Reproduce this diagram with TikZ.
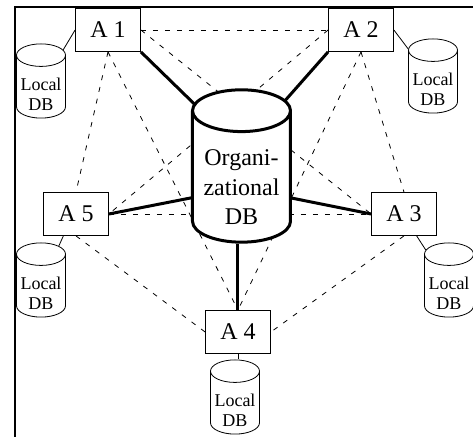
\documentclass[tikz,border=0pt]{standalone}
\usepackage{fontspec}
\setmainfont{Liberation Serif}
\usetikzlibrary{shapes.geometric,backgrounds}
\newcommand{\dblabel}[2]{\raisebox{#1}[\height][\depth]{\begin{tabular}{@{}c@{}}#2\end{tabular}}}

\begin{document}
\begin{tikzpicture}[x=0.5pt,y=-0.5pt,
	app/.style={draw,fill=white,minimum width=32.5pt,minimum height=21.5pt,inner sep=0pt,font=\fontsize{12}{14}\selectfont},
	localdb/.style={draw,fill=white,cylinder,shape border rotate=90,aspect=0.55,anchor=shape center,minimum width=24.5pt,minimum height=33pt,inner sep=0pt,font=\fontsize{9}{10}\selectfont},
	orgdb/.style={draw,fill=white,line width=1.5pt,cylinder,shape border rotate=90,aspect=0.55,anchor=shape center,minimum width=49pt,minimum height=70pt,inner sep=0pt,font=\fontsize{12}{14.7}\selectfont},
	peer/.style={dash pattern=on 2.5pt off 3.5pt,line width=0.4pt},
	link/.style={line width=1.5pt}]
	\useasboundingbox (0,0) rectangle (473,437);
	% applications
	\node[app] (a1) at (108,30) {A 1};
	\node[app] (a2) at (361,30) {A 2};
	\node[app] (a3) at (404,214) {A 3};
	\node[app] (a4) at (238,332) {A 4};
	\node[app] (a5) at (76,214) {A 5};
	% databases
	\node[orgdb] (org) at (241.5,166) {\dblabel{-6pt}{Organi-\\zational\\DB}};
	\node[localdb] (l1) at (41,81) {\dblabel{-5pt}{Local\\DB}};
	\node[localdb] (l2) at (433,76) {\dblabel{-5pt}{Local\\DB}};
	\node[localdb] (l3) at (449,280) {\dblabel{-5pt}{Local\\DB}};
	\node[localdb] (l4) at (235,397) {\dblabel{-5pt}{Local\\DB}};
	\node[localdb] (l5) at (41,280) {\dblabel{-5pt}{Local\\DB}};
	\draw (a1.west) -- (l1);
	\draw (a2.east) -- (l2);
	\draw (a3.-60) -- (l3);
	\draw (a4.south) -- (a4.south |- l4.top);
	\draw (a5.-120) -- (l5);
	\begin{scope}[on background layer]
		\draw[line width=1.2pt] (473,7) -- (15,7) -- (15,437);
		\foreach \p/\q in {a1.east/a2.west,a1.east/a3.west,a2.west/a5.east,a1.south/a4.north,a2.south/a4.north,
			a2.south/a3.north,a1.south/a5.north,a5.east/a3.west,a5.south/a4.west,a3.south/a4.east}
			\draw[peer] (\p) -- (\q);
		\draw[link] (a1.south east) -- ([yshift=8pt]org.shape center);
		\draw[link] (a2.south west) -- ([yshift=8pt]org.shape center);
		\draw[link] (a3.west) -- ([yshift=-11pt]org.shape center);
		\draw[link] (a5.east) -- ([yshift=-11pt]org.shape center);
		\draw[link] (a4.north) -- (a4.north |- org.bottom);
	\end{scope}
\end{tikzpicture}
\end{document}
